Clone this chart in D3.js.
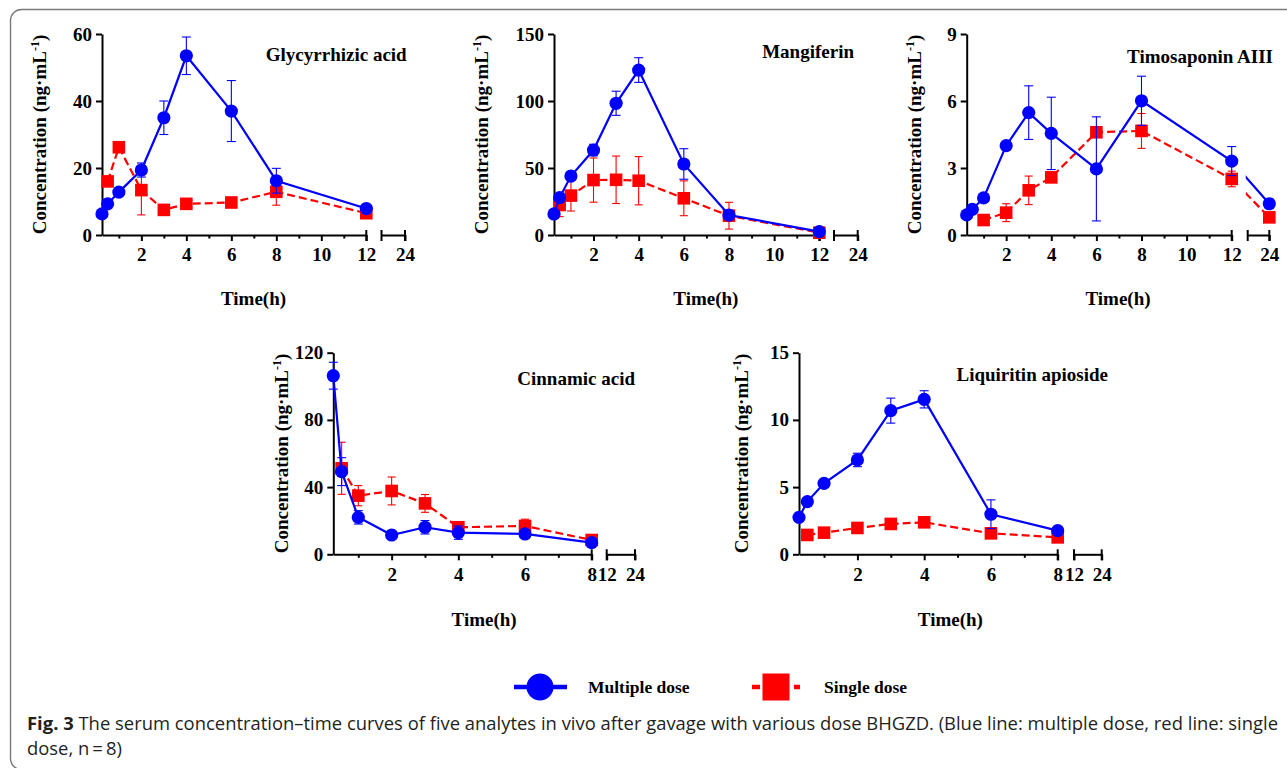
<!DOCTYPE html>
<html><head><meta charset="utf-8">
<script src="https://cdn.jsdelivr.net/npm/d3@7"></script>
<style>body{margin:0;background:#fff}svg{display:block}</style>
</head><body>
<svg id="chart" width="1287" height="768"></svg>
<script>
// ---------- DATA ----------
const analytes = ["Glycyrrhizic acid","Mangiferin","Timosaponin AIII","Cinnamic acid","Liquiritin apioside"];

const glyMultipleT  = [0.25,0.5,1,2,3,4,6,8,12];
const glyMultiple   = [6.3,9.3,12.8,19.4,35.0,53.5,37.0,16.2,7.9];
const glyMultipleSD = [0.5,0.6,0.8,2.1,5.0,5.6,9.1,3.7,0.6];
const glySingleT    = [0.5,1,2,3,4,6,8,12];
const glySingle     = [16.0,26.2,13.4,7.5,9.3,9.7,12.9,6.5];
const glySingleSD   = [1.0,1.0,7.4,0.8,0.8,0.8,4.0,0.6];

const manMultipleT  = [0.25,0.5,1,2,3,4,6,8,12];
const manMultiple   = [15.7,27.9,44.0,63.4,98.3,123.1,53.0,14.9,2.5];
const manMultipleSD = [1.5,2.0,2.0,4.3,9.0,9.2,11.4,2.0,1.0];
const manSingleT    = [0.5,1,2,3,4,6,8,12];
const manSingle     = [22.4,29.4,41.0,41.2,40.5,27.4,14.4,1.7];
const manSingleSD   = [8.7,11.5,16.5,17.7,18.0,13.0,10.0,1.0];

const timMultipleT  = [0.25,0.5,1,2,3,4,6,8,12,24];
const timMultiple   = [0.9,1.15,1.66,4.0,5.48,4.55,2.96,6.01,3.31,1.40];
const timMultipleSD = [0.1,0.1,0.1,0.15,1.2,1.62,2.33,1.1,0.65,0.2];
const timSingleT    = [1,2,3,4,6,8,12,24];
const timSingle     = [0.67,1.0,2.0,2.58,4.6,4.66,2.51,0.79];
const timSingleSD   = [0.1,0.4,0.64,0.2,0.2,0.78,0.35,0.1];

const cinMultipleT  = [0.25,0.5,1,2,3,4,6,8];
const cinMultiple   = [106.3,49.2,22.0,11.5,16.1,12.9,12.1,6.9];
const cinMultipleSD = [8.0,8.3,4.0,1.5,4.0,4.0,1.5,1.0];
const cinSingleT    = [0.5,1,2,3,4,6,8];
const cinSingle     = [51.2,34.9,37.7,30.3,16.1,16.9,8.5];
const cinSingleSD   = [15.5,6.0,8.3,5.3,1.5,4.0,1.0];

const liqMultipleT  = [0.25,0.5,1,2,3,4,6,8];
const liqMultiple   = [2.75,3.92,5.28,7.02,10.69,11.53,2.98,1.76];
const liqMultipleSD = [0.1,0.15,0.15,0.5,0.93,0.64,1.07,0.1];
const liqSingleT    = [0.5,1,2,3,4,6,8];
const liqSingle     = [1.44,1.61,1.96,2.26,2.38,1.56,1.26];
const liqSingleSD   = [0.1,0.1,0.1,0.2,0.2,0.1,0.1];

const yTicks = [[0,20,40,60],[0,50,100,150],[0,3,6,9],[0,40,80,120],[0,5,10,15]];
const xMajor12 = [2,4,6,8,10,12], xMinor12 = [1,3,5,7,9,11];
const xMajor8 = [2,4,6,8], xMinor8 = [1,3,5,7];
const seg2TicksA = [24], seg2TicksB = [12,24];

const legendLabels = ["Multiple dose","Single dose"];
const captionBold = "Fig. 3";
const captionLine1 = "  The serum concentration\u2013time curves of five analytes in vivo after gavage with various dose BHGZD. (Blue line: multiple dose, red line: single";
const captionLine2 = "dose, n\u2009=\u20098)";

// ---------- LAYOUT ----------
const panels = [
 {name:analytes[0], mT:glyMultipleT,m:glyMultiple,mSD:glyMultipleSD,sT:glySingleT,s:glySingle,sSD:glySingleSD,
  yMax:60,yT:yTicks[0],maj:xMajor12,min:xMinor12,xMax:12,seg2T:seg2TicksA,
  ax:102,top:34,bot:235,seg1End:366.3,seg2:[381.5,405],ylab:46,titleX:406.7,titleY:60.5,timeY:305},
 {name:analytes[1], mT:manMultipleT,m:manMultiple,mSD:manMultipleSD,sT:manSingleT,s:manSingle,sSD:manSingleSD,
  yMax:150,yT:yTicks[1],maj:xMajor12,min:xMinor12,xMax:12,seg2T:seg2TicksA,
  ax:554,top:34,bot:235,seg1End:819.3,seg2:[834,857.7],ylab:488,titleX:854,titleY:57.5,timeY:305},
 {name:analytes[2], mT:timMultipleT,m:timMultiple,mSD:timMultipleSD,sT:timSingleT,s:timSingle,sSD:timSingleSD,
  yMax:9,yT:yTicks[2],maj:xMajor12,min:xMinor12,xMax:12,seg2T:seg2TicksA,
  ax:966.7,top:34,bot:235,seg1End:1231.7,seg2:[1247.7,1269.3],ylab:921,titleX:1273,titleY:63,timeY:305},
 {name:analytes[3], mT:cinMultipleT,m:cinMultiple,mSD:cinMultipleSD,sT:cinSingleT,s:cinSingle,sSD:cinSingleSD,
  yMax:120,yT:yTicks[3],maj:xMajor8,min:xMinor8,xMax:8,seg2T:seg2TicksB,
  ax:333.3,top:352.7,bot:554.3,seg1End:591.7,seg2:[606.7,635],ylab:288,titleX:635,titleY:385,timeY:626},
 {name:analytes[4], mT:liqMultipleT,m:liqMultiple,mSD:liqMultipleSD,sT:liqSingleT,s:liqSingle,sSD:liqSingleSD,
  yMax:15,yT:yTicks[4],maj:xMajor8,min:xMinor8,xMax:8,seg2T:seg2TicksB,
  ax:799,top:352.7,bot:554.3,seg1End:1057.7,seg2:[1074,1101.7],ylab:748,titleX:1108,titleY:380.5,timeY:626}
];

const BLUE = "#0000ff", RED = "#ff0000";
const SERIF = "'Liberation Serif','Times New Roman',serif";
const svg = d3.select("#chart");

// frame
svg.append("rect").attr("x",10.5).attr("y",9.5).attr("width",1300).attr("height",760)
  .attr("rx",11).attr("fill","none").attr("stroke","#7a7a7a").attr("stroke-width",1.4);

panels.forEach((p,i)=>{
  const g = svg.append("g");
  const x1 = d3.scaleLinear().domain([0.25,p.xMax]).range([p.ax,p.seg1End]);
  const x2 = d3.scaleLinear().domain([12,24]).range(p.seg2);
  const X = t => t <= p.xMax ? x1(t) : x2(t);
  const y = d3.scaleLinear().domain([0,p.yMax]).range([p.bot,p.top]);

  // y axis
  const ya = g.append("g").attr("transform",`translate(${p.ax},0)`)
    .call(d3.axisLeft(y).tickValues(p.yT).tickSize(6).tickPadding(4).tickSizeOuter(0));
  // x axis seg1
  const xa = g.append("g").attr("transform",`translate(0,${p.bot})`)
    .call(d3.axisBottom(x1).tickValues(p.maj).tickSize(6).tickPadding(7).tickSizeOuter(0).tickFormat(d3.format("d")));
  const xm = g.append("g").attr("transform",`translate(0,${p.bot})`)
    .call(d3.axisBottom(x1).tickValues(p.min).tickSize(3.5).tickSizeOuter(0).tickFormat(""));
  xm.select(".domain").remove();
  const xb = g.append("g").attr("transform",`translate(0,${p.bot})`)
    .call(d3.axisBottom(x2).tickValues(p.seg2T).tickSize(6).tickPadding(7).tickSizeOuter(0).tickFormat(d3.format("d")));
  // break caps
  [p.seg1End, p.seg2[0], p.seg2[1]].forEach(cx=>{
    g.append("line").attr("x1",cx).attr("x2",cx).attr("y1",p.bot-5).attr("y2",p.bot+6)
      .attr("stroke","#000").attr("stroke-width",2);
  });
  [ya,xa,xm,xb].forEach(a=>{
    a.selectAll(".domain,line").attr("stroke","#000").attr("stroke-width",2);
    a.selectAll("text").attr("font-family",SERIF).attr("font-weight","bold").attr("font-size",19).attr("fill","#000");
  });

  // y label
  const yl = g.append("text").attr("transform",`translate(${p.ylab},${(p.top+p.bot)/2}) rotate(-90)`)
    .attr("text-anchor","middle").attr("font-family",SERIF).attr("font-weight","bold").attr("font-size",19);
  yl.append("tspan").text("Concentration (ng\u00b7mL");
  yl.append("tspan").attr("dy",-7).attr("font-size",12).text("-1");
  yl.append("tspan").attr("dy",7).text(")");

  // x label
  g.append("text").attr("x",(p.ax+p.seg2[1])/2).attr("y",p.timeY).attr("text-anchor","middle")
    .attr("font-family",SERIF).attr("font-weight","bold").attr("font-size",19).text("Time(h)");
  // title
  g.append("text").attr("x",p.titleX).attr("y",p.titleY).attr("text-anchor","end")
    .attr("font-family",SERIF).attr("font-weight","bold").attr("font-size",19).text(p.name);

  // clip for lines (gap at axis break)
  const cid = "clip"+i;
  const cp = svg.append("defs").append("clipPath").attr("id",cid);
  cp.append("rect").attr("x",p.ax-30).attr("y",0).attr("width",p.seg1End+1.5-(p.ax-30)).attr("height",768);
  cp.append("rect").attr("x",p.seg2[0]-2).attr("y",0).attr("width",60).attr("height",768);

  const series = [
    {t:p.sT,v:p.s,sd:p.sSD,color:RED,dash:"8,4",shape:"square",cap:4},
    {t:p.mT,v:p.m,sd:p.mSD,color:BLUE,dash:null,shape:"circle",cap:4.5}
  ];
  series.forEach(s=>{
    const pts = s.t.map((t,k)=>({t,v:s.v[k],sd:s.sd[k]}));
    const eg = g.append("g").attr("stroke",s.color).attr("stroke-width",1.1);
    pts.forEach(d=>{
      const cx = X(d.t), yt = y(d.v+d.sd), yb = y(Math.max(0,d.v-d.sd));
      eg.append("line").attr("x1",cx).attr("x2",cx).attr("y1",yt).attr("y2",yb);
      eg.append("line").attr("x1",cx-s.cap).attr("x2",cx+s.cap).attr("y1",yt).attr("y2",yt);
      eg.append("line").attr("x1",cx-s.cap).attr("x2",cx+s.cap).attr("y1",yb).attr("y2",yb);
    });
    g.append("path").datum(pts).attr("clip-path",`url(#${cid})`)
      .attr("d",d3.line().x(d=>X(d.t)).y(d=>y(d.v)))
      .attr("fill","none").attr("stroke",s.color).attr("stroke-width",2.2)
      .attr("stroke-dasharray",s.dash);
    if(s.shape==="circle"){
      g.selectAll(null).data(pts).enter().append("circle")
        .attr("cx",d=>X(d.t)).attr("cy",d=>y(d.v)).attr("r",6.6).attr("fill",s.color);
    } else {
      g.selectAll(null).data(pts).enter().append("rect")
        .attr("x",d=>X(d.t)-6.3).attr("y",d=>y(d.v)-6.3).attr("width",12.6).attr("height",12.6).attr("fill",s.color);
    }
  });
});

// legend
const lg = svg.append("g");
lg.append("line").attr("x1",514).attr("x2",567).attr("y1",687).attr("y2",687).attr("stroke",BLUE).attr("stroke-width",4.5);
lg.append("circle").attr("cx",540).attr("cy",687).attr("r",13.5).attr("fill",BLUE);
lg.append("text").attr("x",588).attr("y",693).attr("font-family",SERIF).attr("font-weight","bold").attr("font-size",17.5).text(legendLabels[0]);
lg.append("line").attr("x1",752).attr("x2",800).attr("y1",687).attr("y2",687).attr("stroke",RED).attr("stroke-width",4.5).attr("stroke-dasharray","8,6");
lg.append("rect").attr("x",762.5).attr("y",673.5).attr("width",27).attr("height",27).attr("fill",RED);
lg.append("text").attr("x",824).attr("y",693).attr("font-family",SERIF).attr("font-weight","bold").attr("font-size",17.5).text(legendLabels[1]);

// caption
const SANS = "'Open Sans','Noto Sans',sans-serif";
const c1 = svg.append("text").attr("x",27).attr("y",730).attr("font-family",SANS).attr("font-size",18).attr("fill","#231f20");
c1.append("tspan").attr("font-weight","bold").text(captionBold);
c1.append("tspan").text(captionLine1);
const nat1 = c1.node().getComputedTextLength();
const target1 = 1278-27;
c1.attr("textLength",target1).attr("lengthAdjust","spacingAndGlyphs");
const c2 = svg.append("text").attr("x",27).attr("y",755).attr("font-family",SANS).attr("font-size",18).attr("fill","#231f20").text(captionLine2);
const nat2 = c2.node().getComputedTextLength();
c2.attr("textLength",nat2*target1/nat1).attr("lengthAdjust","spacingAndGlyphs");
</script>
</body></html>
